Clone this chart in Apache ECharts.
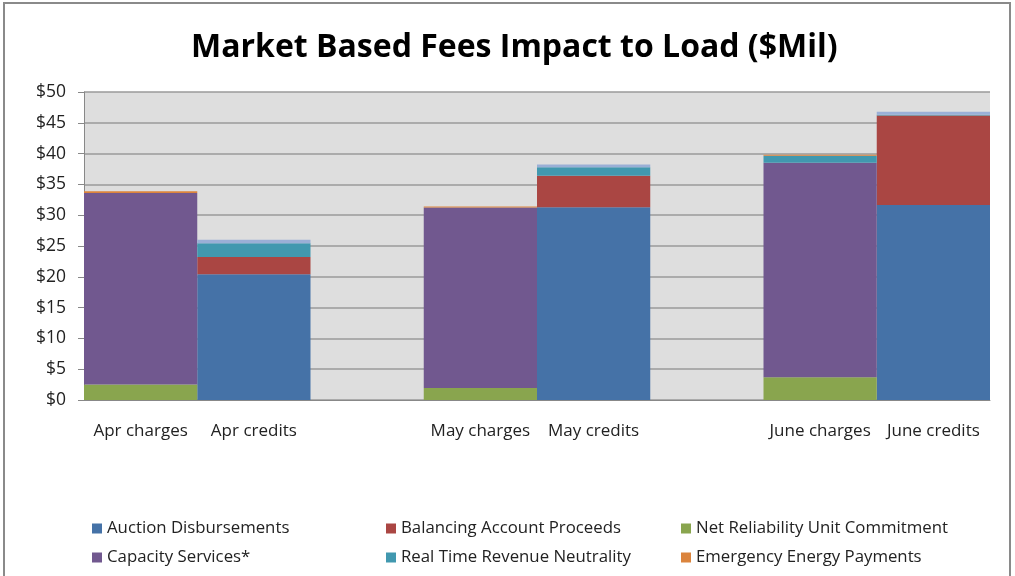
<!DOCTYPE html>
<html><head><meta charset="utf-8">
<script src="https://cdn.jsdelivr.net/npm/echarts@6/dist/echarts.min.js"></script>
<style>html,body{margin:0;padding:0;background:#fff}#c{width:1015px;height:576px}</style>
</head><body><div id="c"></div>
<script>
const categories = ["Apr charges","Apr credits","","May charges","May credits","","June charges","June credits"];
const auction   = [null, 20.4, null, null, 31.3, null, null, 31.65];
const balancing = [null, 2.8,  null, null, 5.1,  null, null, 14.55];
const nruc      = [2.5,  null, null, 1.95, null, null, 3.7,  null];
const capacity  = [31.1, null, null, 29.3, null, null, 34.8, null];
const rtrn      = [null, 2.25, null, null, 1.4,  null, 1.15, 0.1];
const emergency = [0.3,  null, null, 0.15, null, null, 0.15, null];
const other     = [null, 0.55, null, null, 0.45, null, null, 0.5];
const yTicks = ["$0","$5","$10","$15","$20","$25","$30","$35","$40","$45","$50"];

const names = ["Auction Disbursements","Balancing Account Proceeds","Net Reliability Unit Commitment","Capacity Services*","Real Time Revenue Neutrality","Emergency Energy Payments","Other"];
const colors = ["#4572A7","#AA4643","#89A54E","#71588F","#4198AF","#DB843D","#9AAFD6"];
const datas = [auction, balancing, nruc, capacity, rtrn, emergency, other];

const chart = echarts.init(document.getElementById('c'), null, {renderer:'canvas'});
const font = "'Open Sans', 'Noto Sans', sans-serif";
const legendBase = {orient:'vertical', top:515, itemWidth:10, itemHeight:10, itemGap:12, icon:'rect',
  textStyle:{fontFamily:font, fontSize:16.8, color:'#222', padding:[0,0,0,0]}};
chart.setOption({
  backgroundColor:'#fff',
  animation:false,
  graphic:[{type:'rect', shape:{x:4, y:3, width:1006, height:600}, style:{fill:'none', stroke:'#8a8a8a', lineWidth:2}}],
  title:{text:'Market Based Fees Impact to Load ($Mil)', left:186, top:27,
    textStyle:{fontFamily:font, fontSize:32, fontWeight:'bold', color:'#000'}},
  grid:{left:84, right:25, top:92, bottom:176, backgroundColor:'#DEDEDE', show:true, borderWidth:0},
  legend:[
    Object.assign({}, legendBase, {left:87, data:[names[0], names[3]]}),
    Object.assign({}, legendBase, {left:381, data:[names[1], names[4]]}),
    Object.assign({}, legendBase, {left:676, data:[names[2], names[5]]})
  ],
  xAxis:{type:'category', data:categories,
    axisLine:{show:true, lineStyle:{color:'#888', width:1}},
    axisTick:{show:false},
    axisLabel:{fontFamily:font, fontSize:17, color:'#222', margin:23, interval:0}},
  yAxis:{type:'value', min:0, max:50, interval:5,
    axisLine:{show:true, lineStyle:{color:'#888'}},
    axisTick:{show:true, length:6, lineStyle:{color:'#888'}},
    splitLine:{show:true, lineStyle:{color:'#9a9a9a', width:1.5}},
    axisLabel:{fontFamily:font, fontSize:17.5, color:'#222', margin:18,
      formatter:(v)=>yTicks[Math.round(v/5)]}},
  series: datas.map((d,i)=>({
    name:names[i], type:'bar', stack:'s', data:d, barCategoryGap:'0%',
    itemStyle:{color:colors[i]}
  }))
});
</script></body></html>
